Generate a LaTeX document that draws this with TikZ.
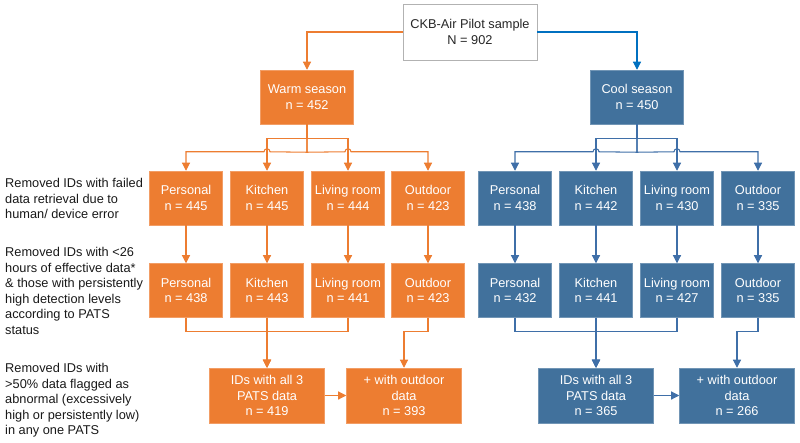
\documentclass[tikz,border=0pt]{standalone}
\usepackage{fontspec}
\setmainfont{Liberation Sans}
\usepackage{xcolor}
\usetikzlibrary{positioning}
\usetikzlibrary{arrows.meta}
\usetikzlibrary{calc}

\definecolor{warmorange}{HTML}{ED7D31}
\definecolor{coolblue}{HTML}{41719C}
\definecolor{coolline}{HTML}{3F6FA8}
\definecolor{topblue}{HTML}{0070C0}

\tikzset{
  txt/.style={font=\fontsize{10.9}{13.2}\selectfont},
  box/.style={txt, minimum width=2.19cm, minimum height=1.62cm, inner sep=0pt, align=center, text=white, line width=0.4pt},
  wbox/.style={box, fill=warmorange, draw=warmorange!75!white},
  cbox/.style={box, fill=coolblue, draw=coolblue!75!white},
  seasonbox/.style={minimum width=2.79cm},
  resbox/.style={minimum width=3.45cm, minimum height=1.65cm},
  wline/.style={draw=warmorange, line width=0.9pt, -{Triangle[width=7pt,length=7pt]}},
  cline/.style={draw=coolline, line width=0.9pt, -{Triangle[width=7pt,length=7pt]}},
  hop/.style={},
}

\begin{document}
\begin{tikzpicture}[x=0.03cm,y=-0.03cm]
\useasboundingbox (0,0) rectangle (800,443);
%\draw[help lines,step=0.3cm] (0,0) grid (800,443);

% top
\node[txt, draw=black!30, fill=white, text=black!85, minimum width=4.02cm, minimum height=1.68cm, align=center, inner sep=0pt] (pilot) at (470,32) {CKB-Air Pilot sample\\N = 902};

% seasons
\node[wbox, seasonbox] (warm) at (307,97) {Warm season\\n = 452};
\node[cbox, seasonbox] (cool) at (637,97) {Cool season\\n = 450};

% warm season, first and second cut
\node[wbox] (wp1) at (186,198) {Personal\\n = 445};
\node[wbox] (wk1) at (267,198) {Kitchen\\n = 445};
\node[wbox] (wl1) at (348,198) {Living room\\n = 444};
\node[wbox] (wo1) at (428,198) {Outdoor\\n = 423};
\node[wbox] (wp2) at (186,290.5) {Personal\\n = 438};
\node[wbox] (wk2) at (267,290.5) {Kitchen\\n = 443};
\node[wbox] (wl2) at (348,290.5) {Living room\\n = 441};
\node[wbox] (wo2) at (428,290.5) {Outdoor\\n = 423};

% cool season, first and second cut
\node[cbox] (cp1) at (515,198) {Personal\\n = 438};
\node[cbox] (ck1) at (596,198) {Kitchen\\n = 442};
\node[cbox] (cl1) at (677,198) {Living room\\n = 430};
\node[cbox] (co1) at (758,198) {Outdoor\\n = 335};
\node[cbox] (cp2) at (515,290.5) {Personal\\n = 432};
\node[cbox] (ck2) at (596,290.5) {Kitchen\\n = 441};
\node[cbox] (cl2) at (677,290.5) {Living room\\n = 427};
\node[cbox] (co2) at (758,290.5) {Outdoor\\n = 335};

% final samples
\node[wbox, resbox] (wall) at (267,395.5) {IDs with all 3\\PATS data\\n = 419};
\node[wbox, resbox] (wout) at (404,395.5) {+ with outdoor\\data\\n = 393};
\node[cbox, resbox] (call) at (596,395.5) {IDs with all 3\\PATS data\\n = 365};
\node[cbox, resbox] (cout) at (737,395.5) {+ with outdoor\\data\\n = 266};

% exclusion steps
\node[txt, anchor=west, align=left, text=black!90, inner sep=0pt] (step1) at (5,198.5) {Removed IDs with failed\\data retrieval due to\\human/ device error};
\node[txt, anchor=west, align=left, text=black!90, inner sep=0pt] (step2) at (5,291) {Removed IDs with <26\\hours of effective data*\\\& those with persistently\\high detection levels\\according to PATS\\status};
\node[txt, anchor=west, align=left, text=black!90, inner sep=0pt] (step3) at (5,400.5) {Removed IDs with\\>50\% data flagged as\\abnormal (excessively\\high or persistently low)\\in any one PATS};

% split by season
\draw[wline] (pilot.west) -| (warm.north);
\draw[cline, draw=topblue] (pilot.east) -| (cool.north);

% warm season branches
\draw[wline] (warm.south) -- ++(0,14) -| (wk1.north);
\draw[wline] (warm.south) -- ++(0,14) -| (wl1.north);
\draw[wline] (warm.south) -- ++(0,28) -- ($(wk1.north)+(3,-19)$) arc[start angle=0,end angle=180,radius=0.09cm] -| (wp1.north);
\draw[wline] (warm.south) -- ++(0,28) -- ($(wl1.north)+(-3,-19)$) arc[start angle=180,end angle=0,radius=0.09cm] -| (wo1.north);

% cool season branches
\draw[cline] (cool.south) -- ++(0,14) -| (ck1.north);
\draw[cline] (cool.south) -- ++(0,14) -| (cl1.north);
\draw[cline] (cool.south) -- ++(0,28) -- ($(ck1.north)+(3,-19)$) arc[start angle=0,end angle=180,radius=0.09cm] -| (cp1.north);
\draw[cline] (cool.south) -- ++(0,28) -- ($(cl1.north)+(-3,-19)$) arc[start angle=180,end angle=0,radius=0.09cm] -| (co1.north);

% second cut
\foreach \n in {p,k,l,o}{
  \draw[wline] (w\n1.south) -- (w\n2.north);
  \draw[cline] (c\n1.south) -- (c\n2.north);
}

% merge to final samples
\draw[wline] (wp2.south) -- ++(0,14) -| (wall.north);
\draw[wline] (wl2.south) -- ++(0,14) -| (wall.north);
\draw[wline] (wk2.south) -- (wall.north);
\draw[wline] (wo2.south) -- ++(0,14) -| (wout.north);
\draw[wline] (wall.east) -- (wout.west);

\draw[cline] (cp2.south) -- ++(0,14) -| (call.north);
\draw[cline] (cl2.south) -- ++(0,14) -| (call.north);
\draw[cline] (ck2.south) -- (call.north);
\draw[cline] (co2.south) -- ++(0,14) -| (cout.north);
\draw[cline] (call.east) -- (cout.west);
\end{tikzpicture}
\end{document}
